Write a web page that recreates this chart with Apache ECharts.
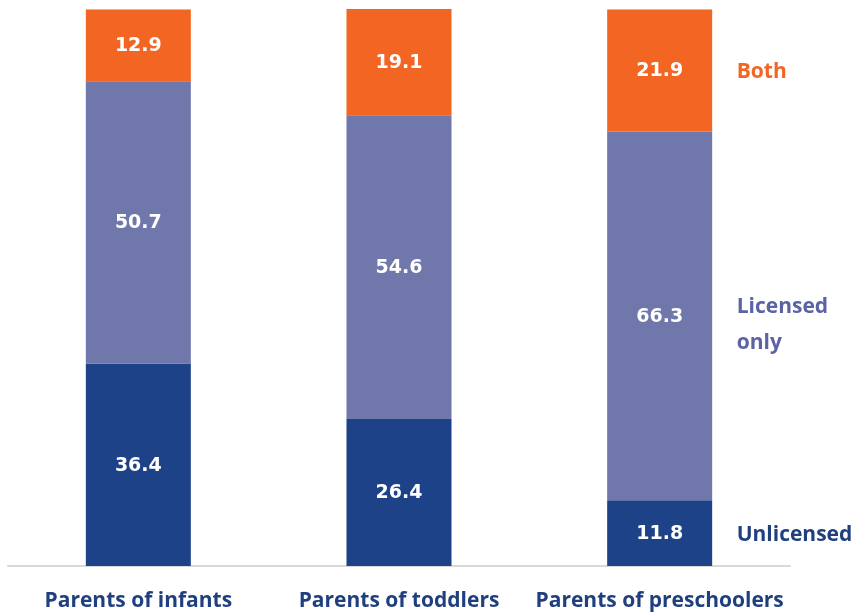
<!DOCTYPE html>
<html><head><meta charset="utf-8">
<script src="https://cdn.jsdelivr.net/npm/echarts@6/dist/echarts.min.js"></script>
<style>html,body{margin:0;padding:0;background:#fff;}#c{width:859px;height:612px;}</style>
</head><body><div id="c"></div>
<script>
var categories = ['Parents of infants', 'Parents of toddlers', 'Parents of preschoolers'];
var unlicensed = [36.4, 26.4, 11.8];
var licensedOnly = [50.7, 54.6, 66.3];
var both = [12.9, 19.1, 21.9];
var seriesNames = ['Unlicensed', 'Licensed\nonly', 'Both'];

var colors = ['#1D4287', '#6F77AB', '#F26522'];
var font = '"Open Sans", Lato, sans-serif';
var numFont = '"DejaVu Sans", sans-serif';
var chart = echarts.init(document.getElementById('c'));
function mk(name, data, color) {
  return {
    name: name, type: 'bar', stack: 'total', data: data, barWidth: 105,
    itemStyle: { color: color },
    label: { show: true, position: 'inside', color: '#fff', fontSize: 19, fontWeight: 'bold', fontFamily: numFont,
      offset: [0, 1],
      formatter: function (p) { return p.value.toFixed(1); } }
  };
}
chart.setOption({
  animation: false,
  grid: { left: 8, right: 69, top: 9, bottom: 46 },
  xAxis: { type: 'category', data: categories,
    axisLine: { lineStyle: { color: '#d9d9d9', width: 2 } }, axisTick: { show: false },
    axisLabel: { interval: 0, margin: 25, color: '#1F3F7E', fontSize: 21, fontWeight: 'bold', fontFamily: font } },
  yAxis: { type: 'value', min: 0, max: 100.1, show: false, splitLine: { show: false } },
  series: [mk(seriesNames[0], unlicensed, colors[0]), mk(seriesNames[1], licensedOnly, colors[1]), mk(seriesNames[2], both, colors[2])]
});
var last = categories.length - 1;
var cum = [0, unlicensed[last], unlicensed[last] + licensedOnly[last], unlicensed[last] + licensedOnly[last] + both[last]];
var labelColors = ['#1F3F7E', '#5B62A6', '#F26522'];
var els = [];
for (var i = 0; i < 3; i++) {
  var mid = (cum[i] + cum[i + 1]) / 2;
  var pt = chart.convertToPixel({ gridIndex: 0 }, [last, mid]);
  els.push({ type: 'text', x: pt[0] + 52 + 25, y: pt[1] + (i === 1 ? 9 : 2),
    style: { text: seriesNames[i], fill: labelColors[i], font: 'bold 21px ' + font, textVerticalAlign: 'middle', lineHeight: 36 } });
}
chart.setOption({ graphic: els });
</script></body></html>
